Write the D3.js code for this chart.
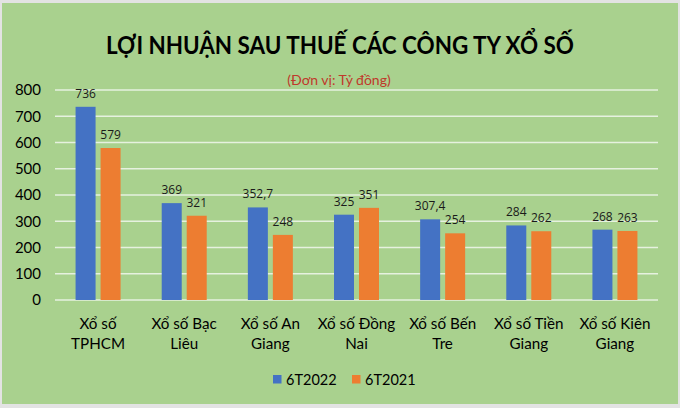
<!DOCTYPE html>
<html>
<head>
<meta charset="utf-8">
<script src="https://cdn.jsdelivr.net/npm/d3@7"></script>
<style>
  html, body { margin: 0; padding: 0; background: #e3e3e3; }
  svg { display: block; }
</style>
</head>
<body>
<svg id="chart" width="680" height="408"></svg>
<script>
const categories = [
  ["Xổ số", "TPHCM"],
  ["Xổ số Bạc", "Liêu"],
  ["Xổ số An", "Giang"],
  ["Xổ số Đồng", "Nai"],
  ["Xổ số Bến", "Tre"],
  ["Xổ số Tiền", "Giang"],
  ["Xổ số Kiên", "Giang"]
];
const seriesNames = ["6T2022", "6T2021"];
const values2022 = [736, 369, 352.7, 325, 307.4, 284, 268];
const values2021 = [579, 321, 248, 351, 254, 262, 263];
const labels2022 = ["736", "369", "352,7", "325", "307,4", "284", "268"];
const labels2021 = ["579", "321", "248", "351", "254", "262", "263"];
const yTicks = [0, 100, 200, 300, 400, 500, 600, 700, 800];
const colors = ["#4472C4", "#ED7D31"];

const svg = d3.select("#chart");
const font = "Lato, 'Open Sans', sans-serif";

svg.append("rect").attr("x", 2).attr("y", 3).attr("width", 676).attr("height", 401)
  .attr("fill", "#A9D18E");

svg.append("text").attr("x", 340).attr("y", 54).attr("text-anchor", "middle")
  .attr("font-family", font).attr("font-weight", 700).attr("font-size", 25)
  .attr("textLength", 468).attr("lengthAdjust", "spacingAndGlyphs")
  .attr("fill", "#000").text("LỢI NHUẬN SAU THUẾ CÁC CÔNG TY XỔ SỐ");

svg.append("text").attr("x", 339).attr("y", 85).attr("text-anchor", "middle")
  .attr("font-family", font).attr("font-size", 14)
  .attr("fill", "#C0392B").text("(Đơn vị: Tỷ đồng)");

const x = d3.scaleBand().domain(d3.range(categories.length)).range([55, 658]);
const y = d3.scaleLinear().domain([0, 800]).range([300, 90]);

const g = svg.append("g");
g.selectAll("line.grid").data(yTicks).join("line")
  .attr("x1", 55).attr("x2", 658)
  .attr("y1", d => y(d)).attr("y2", d => y(d))
  .attr("stroke", "#E6F1DF").attr("stroke-width", 1.3);

const yAxis = d3.axisLeft(y).tickValues(yTicks).tickSize(0).tickPadding(0);
const ya = svg.append("g").attr("transform", "translate(41,0)").call(yAxis);
ya.select(".domain").remove();
ya.selectAll("text").attr("font-family", font).attr("font-size", 15).attr("fill", "#000");

const barW = 20, gap = 5;
const series = [values2022, values2021];
const labels = [labels2022, labels2021];
series.forEach((vals, si) => {
  const off = si === 0 ? -(barW + gap / 2) : gap / 2;
  svg.append("g").selectAll("rect").data(vals).join("rect")
    .attr("x", (d, i) => x(i) + x.bandwidth() / 2 + off)
    .attr("y", d => y(d))
    .attr("width", barW)
    .attr("height", d => y(0) - y(d))
    .attr("fill", colors[si]);
  svg.append("g").selectAll("text").data(vals).join("text")
    .attr("x", (d, i) => x(i) + x.bandwidth() / 2 + off + barW / 2)
    .attr("y", d => y(d) - 9)
    .attr("text-anchor", "middle")
    .attr("font-family", "'Open Sans', sans-serif").attr("font-size", 12)
    .attr("fill", "#1a1a1a")
    .text((d, i) => labels[si][i]);
});

const xa = svg.append("g");
categories.forEach((c, i) => {
  const t = xa.append("text").attr("text-anchor", "middle")
    .attr("font-family", font).attr("font-size", 15.2).attr("fill", "#000");
  t.append("tspan").attr("x", x(i) + x.bandwidth() / 2).attr("y", 329).text(c[0]);
  t.append("tspan").attr("x", x(i) + x.bandwidth() / 2).attr("y", 349).text(c[1]);
});

const legX = [273, 352];
seriesNames.forEach((n, i) => {
  svg.append("rect").attr("x", legX[i]).attr("y", 375).attr("width", 8.5).attr("height", 8.5)
    .attr("fill", colors[i]);
  svg.append("text").attr("x", legX[i] + 13).attr("y", 384.5)
    .attr("font-family", font).attr("font-size", 14.5).attr("fill", "#000").text(n);
});
</script>
</body>
</html>
